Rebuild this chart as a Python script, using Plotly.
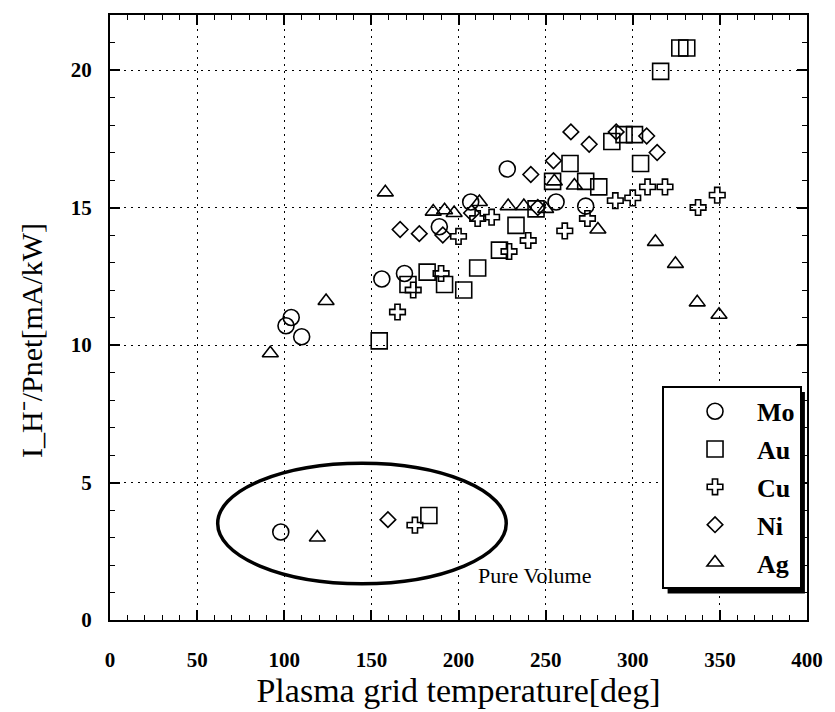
import plotly.graph_objects as go

# ---- data ----
mo_x = [98, 101, 104, 110, 156, 169, 189, 207, 228, 256, 273]
mo_y = [3.2, 10.7, 11.0, 10.3, 12.4, 12.6, 14.3, 15.2, 16.4, 15.2, 15.05]

au_x = [183, 154.5, 171, 182, 192, 203, 211, 223.5, 233, 244.5, 254, 264, 273, 280.5,
        288, 295, 301, 304.5, 316, 327, 331]
au_y = [3.8, 10.15, 12.2, 12.65, 12.2, 12.0, 12.8, 13.45, 14.35, 14.95, 15.95, 16.6, 15.95, 15.75,
        17.4, 17.65, 17.65, 16.6, 19.95, 20.8, 20.8]

cu_x = [175, 165, 174, 190, 200, 211, 219, 229, 240, 261, 274, 290, 300, 308.5, 318.5, 337.5, 348.5]
cu_y = [3.45, 11.2, 12.0, 12.6, 13.95, 14.6, 14.65, 13.4, 13.8, 14.15, 14.6, 15.25, 15.35, 15.75,
        15.75, 15.0, 15.45]

ni_x = [159.5, 166.5, 177.5, 191, 207.5, 241.5, 245.5, 254.5, 264.5, 275, 290.5, 308, 314]
ni_y = [3.65, 14.2, 14.05, 14.0, 14.8, 16.2, 15.0, 16.7, 17.75, 17.3, 17.75, 17.6, 17.0]

ag_x = [119, 92, 124, 158, 185.5, 192, 197.5, 212, 228.5, 237.5, 250, 255, 266.5, 280,
        313, 324.5, 337, 349.5]
ag_y = [3.0, 9.7, 11.6, 15.55, 14.85, 14.9, 14.8, 15.2, 15.05, 15.05, 14.95, 15.95, 15.8, 14.2,
        13.75, 12.95, 11.55, 11.1]

series = [
    ("Mo", mo_x, mo_y, "circle-open", 16),
    ("Au", au_x, au_y, "square-open", 16),
    ("Cu", cu_x, cu_y, "cross-open", 13),
    ("Ni", ni_x, ni_y, "diamond-open", 12),
    ("Ag", ag_x, ag_y, "triangle-up-open", 14),
]

x_ticks = [0, 50, 100, 150, 200, 250, 300, 350, 400]
y_ticks = [0, 5, 10, 15, 20]

SERIF = "Liberation Serif"

fig = go.Figure()
for name, xs, ys, sym, sz in series:
    fig.add_trace(go.Scatter(
        x=xs, y=ys, mode="markers", name="<b>%s</b>" % name, legendgroup=name,
        marker=dict(symbol=sym, size=sz, color="black", line=dict(color="black", width=1.6)),
    ))

# ellipse around the "pure volume" points
fig.add_shape(type="circle", xref="x", yref="y", x0=61.8, x1=227.4, y0=1.32, y1=5.70,
              line=dict(color="black", width=3.5), layer="above")
fig.add_annotation(x=243.5, y=1.62, xref="x", yref="y", text="Pure Volume", showarrow=False,
                   font=dict(family=SERIF, size=22, color="black"))

# y-axis title as a rotated annotation
fig.add_annotation(x=-0.1127, y=0.462, xref="paper", yref="paper", xanchor="center", yanchor="middle",
                   text="I_H\u207b/Pnet[mA/kW]", textangle=-90, showarrow=False,
                   font=dict(family=SERIF, size=30, color="black"))

# legend shadow
lx0, ly_top = 0.792, 0.387
fig.add_shape(type="rect", xref="paper", yref="paper",
              x0=0.800, x1=0.997, y0=0.0437, y1=0.377,
              fillcolor="black", line=dict(width=0), layer="above")

axis_common = dict(
    showline=True, linecolor="black", linewidth=2, mirror="ticks",
    ticks="inside", ticklen=10, tickwidth=1.5, tickcolor="black",
    showgrid=True, gridcolor="black", gridwidth=1, griddash="2px,5px",
    zeroline=False,
    tickfont=dict(family=SERIF, size=21, color="black"),
)

fig.update_xaxes(
    range=[0, 400], tickvals=x_ticks, ticktext=["<b>%d</b>" % v for v in x_ticks],
    minor=dict(dtick=10, ticks="inside", ticklen=5, tickcolor="black", tickwidth=1.2, showgrid=False),
    ticklabelstandoff=20,
    title=dict(text="Plasma grid temperature[deg]", font=dict(family=SERIF, size=34, color="black"),
               standoff=4),
    **axis_common,
)
fig.update_yaxes(
    range=[0, 22], tickvals=y_ticks, ticktext=["<b>%d</b>" % v for v in y_ticks],
    minor=dict(dtick=1, ticks="inside", ticklen=5, tickcolor="black", tickwidth=1.2, showgrid=False),
    ticklabelstandoff=12,
    **axis_common,
)

fig.update_layout(
    width=835, height=712,
    margin=dict(l=110, r=24, t=15, b=90.5),
    plot_bgcolor="white", paper_bgcolor="white",
    showlegend=True,
    legend=dict(
        x=lx0, y=ly_top, xanchor="left", yanchor="top",
        bgcolor="white", bordercolor="black", borderwidth=2,
        font=dict(family=SERIF, size=26, color="black"),
        tracegroupgap=1, itemwidth=74, indentation=9,
    ),
)

fig.write_html("out.html")
